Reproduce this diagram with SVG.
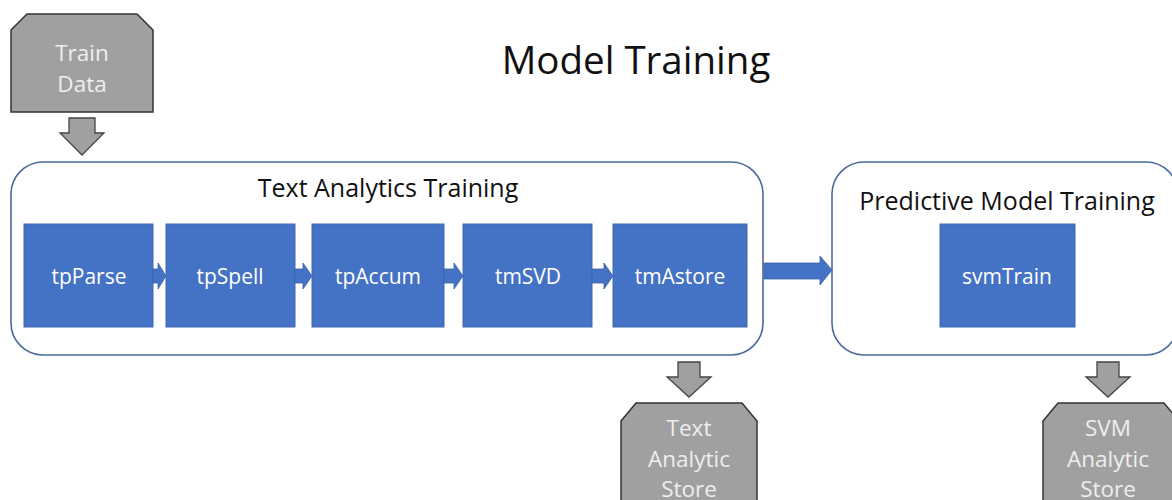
<svg xmlns="http://www.w3.org/2000/svg" width="1172" height="500" viewBox="0 0 1172 500">
<style>
text{font-family:"Open Sans","Noto Sans","Liberation Sans",sans-serif;text-anchor:middle}
.title{font-size:38.5px;fill:#111}
.ctitle{font-size:25px;fill:#111}
.cont{fill:#fff;stroke:#4c6a9c;stroke-width:1.6}
.blue{fill:#4472c4;stroke:#3f68b0;stroke-width:1}
.btxt{font-size:21px;fill:#fff}
.gray{fill:#a0a0a0;stroke:#333;stroke-width:1.5}
.gtxt{font-size:22.5px;fill:#eeeeee}
.garrow{fill:#a0a0a0;stroke:#444;stroke-width:1.3}
.barrow{fill:#4472c4;stroke:#3a62a8;stroke-width:0.8}
</style>
<rect width="1172" height="500" fill="#fff"/>
<text class="title" x="636" y="74">Model Training</text>

<g id="train-data">
<polygon class="gray" points="11,30 27,14 137,14 153,30 153,112 11,112"/>
<text class="gtxt" x="82" y="61">Train</text>
<text class="gtxt" x="82" y="92">Data</text>
</g>

<g id="text-analytics-training">
<rect class="cont" x="11" y="162" width="752" height="193" rx="32" ry="32"/>
<text class="ctitle" x="388" y="197">Text Analytics Training</text>
</g>

<g id="predictive-model-training">
<rect class="cont" x="832" y="162" width="346" height="193" rx="32" ry="32"/>
<text class="ctitle" x="1007" y="210">Predictive Model Training</text>
</g>

<g id="tpParse"><rect class="blue" x="24" y="224" width="129" height="103"/><text class="btxt" x="89" y="284">tpParse</text></g>
<g id="tpSpell"><rect class="blue" x="166" y="224" width="129" height="103"/><text class="btxt" x="230" y="284">tpSpell</text></g>
<g id="tpAccum"><rect class="blue" x="312" y="224" width="132" height="103"/><text class="btxt" x="378" y="284">tpAccum</text></g>
<g id="tmSVD"><rect class="blue" x="463" y="224" width="129" height="103"/><text class="btxt" x="528" y="284">tmSVD</text></g>
<g id="tmAstore"><rect class="blue" x="613" y="224" width="134" height="103"/><text class="btxt" x="680" y="284">tmAstore</text></g>
<g id="svmTrain"><rect class="blue" x="940" y="224" width="135" height="103"/><text class="btxt" x="1007" y="284">svmTrain</text></g>

<g id="text-analytic-store">
<polygon class="gray" points="621,421 636,403 742,403 757,421 757,505 621,505"/>
<text class="gtxt" x="689" y="436">Text</text>
<text class="gtxt" x="689" y="467">Analytic</text>
<text class="gtxt" x="689" y="497">Store</text>
</g>

<g id="svm-analytic-store">
<polygon class="gray" points="1043,421 1058,403 1164,403 1179,421 1179,505 1043,505"/>
<text class="gtxt" x="1108" y="436">SVM</text>
<text class="gtxt" x="1108" y="467">Analytic</text>
<text class="gtxt" x="1108" y="497">Store</text>
</g>

<g id="connectors">
<polygon class="garrow" points="69,118 95,118 95,133 104,133 82,155 60,133 69,133"/>
<polygon class="garrow" points="678,362 700,362 700,377 711,377 689,397 667,377 678,377"/>
<polygon class="garrow" points="1097,362 1119,362 1119,377 1130,377 1108,397 1086,377 1097,377"/>
<polygon class="barrow" points="153,269 158,269 158,263 166,276 158,289 158,283 153,283"/>
<polygon class="barrow" points="295,269 303,269 303,263 312,276 303,289 303,283 295,283"/>
<polygon class="barrow" points="444,269 454,269 454,263 463,276 454,289 454,283 444,283"/>
<polygon class="barrow" points="592,269 604,269 604,263 613,276 604,289 604,283 592,283"/>
<polygon class="barrow" points="764,263 820,263 820,256 832,270 820,285 820,279 764,279"/>
</g>
</svg>
